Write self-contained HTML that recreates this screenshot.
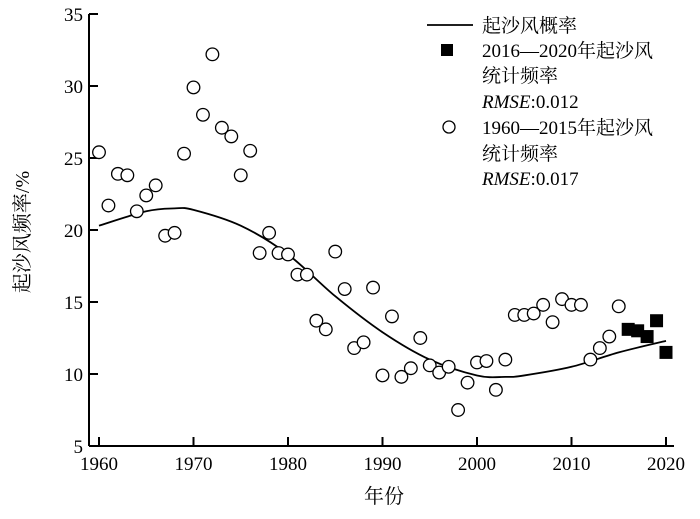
<!DOCTYPE html>
<html><head><meta charset="utf-8"><style>
html,body{margin:0;padding:0;background:#fff;}
svg text{font-family:"Liberation Serif","Noto Serif CJK SC",serif;fill:#000;}
</style></head><body>
<svg id="chart" width="700" height="514" viewBox="0 0 700 514" xmlns="http://www.w3.org/2000/svg">
<g id="axes"></g>
<g id="marks"></g>
<g id="legend">
  <line x1="427" y1="25" x2="473" y2="25" stroke="#000" stroke-width="1.8"/>
  <text x="482" y="32" font-size="19">起沙风概率</text>
  <rect x="441" y="44" width="12" height="12" fill="#000"/>
  <text x="482" y="57" font-size="19">2016—2020年起沙风</text>
  <text x="482" y="82" font-size="19">统计频率</text>
  <text x="482" y="108" font-size="19"><tspan font-style="italic">RMSE</tspan>:0.012</text>
  <circle cx="449" cy="127" r="6" fill="#fff" stroke="#000" stroke-width="1.3"/>
  <text x="482" y="134" font-size="19">1960—2015年起沙风</text>
  <text x="482" y="160" font-size="19">统计频率</text>
  <text x="482" y="185" font-size="19"><tspan font-style="italic">RMSE</tspan>:0.017</text>
</g>
<text transform="translate(29,232) rotate(-90)" text-anchor="middle" font-size="20">起沙风频率/%</text>
<text x="384" y="503" text-anchor="middle" font-size="20">年份</text>
</svg>
<script>
const histYears = [1960,1961,1962,1963,1964,1965,1966,1967,1968,1969,1970,1971,1972,1973,1974,1975,1976,1977,1978,1979,1980,1981,1982,1983,1984,1985,1986,1987,1988,1989,1990,1991,1992,1993,1994,1995,1996,1997,1998,1999,2000,2001,2002,2003,2004,2005,2006,2007,2008,2009,2010,2011,2012,2013,2014,2015];
const histValues = [25.4,21.7,23.9,23.8,21.3,22.4,23.1,19.6,19.8,25.3,29.9,28.0,32.2,27.1,26.5,23.8,25.5,18.4,19.8,18.4,18.3,16.9,16.9,13.7,13.1,18.5,15.9,11.8,12.2,16.0,9.9,14.0,9.8,10.4,12.5,10.6,10.1,10.5,7.5,9.4,10.8,10.9,8.9,11.0,14.1,14.1,14.2,14.8,13.6,15.2,14.8,14.8,11.0,11.8,12.6,14.7];
const recentYears = [2016,2017,2018,2019,2020];
const recentValues = [13.1,13.0,12.6,13.7,11.5];
const curveYears = [1960,1965,1968,1970,1975,1980,1985,1990,1995,2000,2003,2005,2010,2015,2020];
const curveValues = [20.3,21.3,21.5,21.4,20.3,18.3,15.4,12.9,11.0,9.9,9.8,9.9,10.5,11.5,12.3];
const xTicks = [1960,1970,1980,1990,2000,2010,2020];
const yTicks = [5,10,15,20,25,30,35];

const NS='http://www.w3.org/2000/svg';
const X0=99, PXY=9.45, Y0=446, PXV=14.4, AXX=89;
function xs(v){return X0+(v-1960)*PXY;}
function ys(v){return Y0-(v-5)*PXV;}
function mk(tag,attrs,parent){const e=document.createElementNS(NS,tag);for(const k in attrs)e.setAttribute(k,attrs[k]);parent.appendChild(e);return e;}
const axes=document.getElementById('axes'), marks=document.getElementById('marks');

let e=mk('line',{x1:AXX,y1:ys(35),x2:AXX,y2:Y0,stroke:'#000','stroke-width':2},axes);


e=mk('line',{x1:AXX,y1:Y0,x2:xs(2020)+8,y2:Y0,stroke:'#000','stroke-width':2},axes);


yTicks.forEach(v=>{
  const t=mk('line',{x1:AXX,y1:ys(v),x2:AXX+9,y2:ys(v),stroke:'#000','stroke-width':2},axes);
  
  
  const l=mk('text',{x:AXX-6,y:ys(v)+7,'text-anchor':'end','font-size':19},axes);
  l.textContent=v;
  
  
});
xTicks.forEach(v=>{
  const t=mk('line',{x1:xs(v),y1:Y0,x2:xs(v),y2:Y0-9,stroke:'#000','stroke-width':2},axes);
  
  
  const l=mk('text',{x:xs(v),y:Y0+24,'text-anchor':'middle','font-size':19},axes);
  l.textContent=v;
  
  
});

// smooth curve (Catmull-Rom)
const pts=curveYears.map((y,i)=>[xs(y),ys(curveValues[i])]);
let d='M'+pts[0][0]+','+pts[0][1];
for(let i=0;i<pts.length-1;i++){
  const p0=pts[Math.max(0,i-1)],p1=pts[i],p2=pts[i+1],p3=pts[Math.min(pts.length-1,i+2)];
  const c1=[p1[0]+(p2[0]-p0[0])/6,p1[1]+(p2[1]-p0[1])/6];
  const c2=[p2[0]-(p3[0]-p1[0])/6,p2[1]-(p3[1]-p1[1])/6];
  d+=' C'+c1[0]+','+c1[1]+' '+c2[0]+','+c2[1]+' '+p2[0]+','+p2[1];
}
e=mk('path',{d:d,fill:'none',stroke:'#000','stroke-width':1.8},marks);



histYears.forEach((y,i)=>{
  const c=mk('circle',{cx:xs(y),cy:ys(histValues[i]),r:6.3,fill:'#fff',stroke:'#000','stroke-width':1.3},marks);
  
  
});
recentYears.forEach((y,i)=>{
  const r=mk('rect',{x:xs(y)-6.5,y:ys(recentValues[i])-6.5,width:13,height:13,fill:'#000'},marks);
  
  
});
</script>
</body></html>
